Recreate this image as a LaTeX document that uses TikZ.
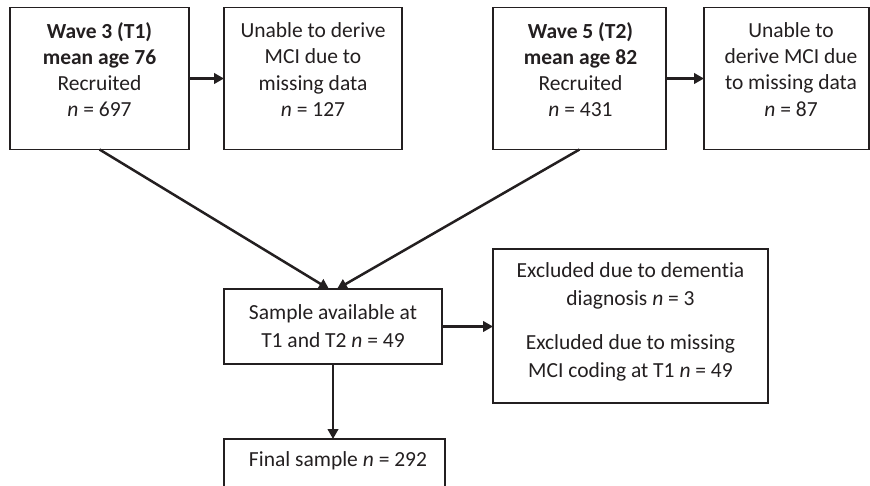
\documentclass[tikz,border=0pt]{standalone}
\usepackage{fontspec}
\setmainfont[Ligatures=NoCommon]{Carlito}
\usetikzlibrary{arrows.meta}
\definecolor{ink}{HTML}{231F20}
\begin{document}
\begin{tikzpicture}[x=1pt,y=-1pt,
  box/.style={draw=ink, line width=1.4pt, inner sep=0pt, outer sep=0pt, anchor=north west},
  txt/.style={text=ink, inner sep=0pt, align=center, font=\fontsize{21.5}{26.2}\selectfont},
  txtb/.style={text=ink, inner sep=0pt, align=center, font=\fontsize{21.5}{28}\selectfont},
  arr/.style={draw=ink, line width=2.5pt, -{Triangle[length=10pt,width=10.5pt]}}
]
\useasboundingbox (0,0) rectangle (870,486);
% boxes
\node[box, minimum width=179pt, minimum height=142pt] (w3) at (10,7.5) {};
\node[box, minimum width=178pt, minimum height=142pt] (u1) at (224,7.5) {};
\node[box, minimum width=173pt, minimum height=142pt] (w5) at (493,7.5) {};
\node[box, minimum width=165pt, minimum height=142pt] (u2) at (704,7.5) {};
\node[box, minimum width=218pt, minimum height=75pt] (s) at (224,289) {};
\node[box, minimum width=275pt, minimum height=154pt] (ex) at (493,249) {};
\node[box, minimum width=221pt, minimum height=52pt] (f) at (224,439) {};
% texts
\node[txt] (w3t) at (99.5,69.5) {\textbf{Wave 3 (T1)}\\\textbf{mean age 76}\\Recruited\\\textit{n} = 697};
\node[txt] (u1t) at (313,69.5) {Unable to derive\\MCI due to\\missing data\\\textit{n} = 127};
\node[txt] (w5t) at (580.5,69.5) {\textbf{Wave 5 (T2)}\\\textbf{mean age 82}\\Recruited\\\textit{n} = 431};
\node[txt] (u2t) at (791,69.5) {Unable to\\derive MCI due\\to missing data\\\textit{n} = 87};
\node[txtb] (st) at (333,326) {Sample available at\\T1 and T2 \textit{n} = 49};
\node[txtb] (ext) at (630.5,322) {Excluded due to dementia\\diagnosis \textit{n} = 3\\[16pt]Excluded due to missing\\MCI coding at T1 \textit{n} = 49};
\node[txt] (ft) at (338,461) {Final sample \textit{n} = 292};
% connectors
\draw[arr] (w3.east) -- (u1.west);
\draw[arr] (w5.east) -- (u2.west);
\draw[arr] (w3.south) -- ([xshift=-4pt]s.north);
\draw[arr] (w5.south) -- ([xshift=4pt]s.north);
\draw[arr] (s.east) -- (s.east -| ex.west);
\draw[arr] (s.south) -- (s.south |- f.north);
\end{tikzpicture}
\end{document}
